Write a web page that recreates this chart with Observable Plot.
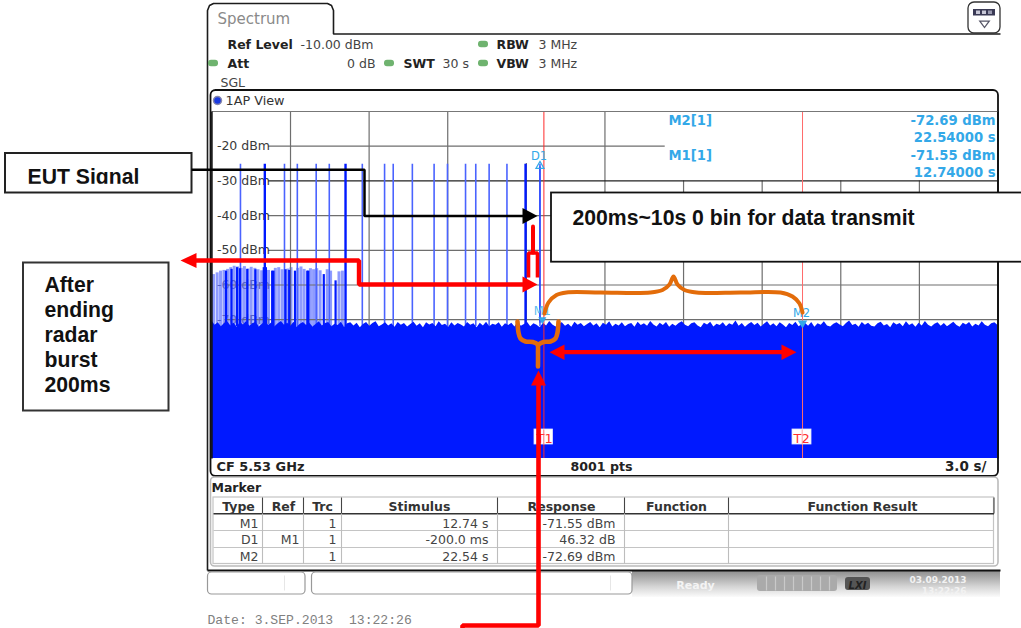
<!DOCTYPE html>
<html>
<head>
<meta charset="utf-8">
<script src="https://cdn.jsdelivr.net/npm/d3@7"></script>
<script src="https://cdn.jsdelivr.net/npm/@observablehq/plot@0.6"></script>
<style>
html,body{margin:0;padding:0;background:#fff;overflow:hidden}
#page{position:relative;width:1021px;height:628px;overflow:hidden}
#page svg{position:absolute;left:0;top:0}
#statusbar{position:absolute;left:632px;top:571px;width:368px;height:26px;background:linear-gradient(#8f8f8f,#d5d5d5 60%,#fbfbfb)}
</style>
</head>
<body>
<div id="page"><div id="statusbar"></div></div>
<script>
// ---- values ----
const levelTicks = [-20,-30,-40,-50];
const buriedLevelTicks = [-60,-70];
const gridTopFull = [3,6,9,15];
const gridBelowPulseTop = [12];
const gridBelowText = [18,21,24,27];
const pulseTimes = [1.09,2.77,3.26,3.98,4.48,5.74,6.59,6.92,7.65,8.48,8.99,9.68,10.07,10.58,11.26,12.52];
const thickPulseTimes = [2.02,5.10,11.97];
const pulseTop = -25.2;
const burstLightTimes = [0.06,0.2,0.33,0.46,0.6,0.72,0.85,0.98,1.12,1.24,1.38,1.5,1.64,1.76,1.9,2.16,2.42,2.55,2.68,2.9,3.02,3.28,3.4,3.52,3.76,3.88,4.0,4.13,4.4,4.53,4.85,4.98];
const burstLightTops  = [-57,-56.5,-56,-55.8,-55.5,-55,-54.6,-54.8,-55.2,-54.7,-55.4,-54.9,-55.2,-55.6,-55.9,-55.8,-55.2,-55,-55.6,-55.4,-55,-55.2,-54.8,-55.5,-55.3,-55.6,-55.3,-55.9,-55.6,-56,-56.2,-56];
const burstDarkTimes = [0.54,0.75,0.96,1.07,1.35,1.66,1.98,2.06,2.30,2.35,2.81,2.95,3.17,3.64,3.68,4.27,4.72];
const burstDarkTops  = [-56,-55.5,-55,-55.3,-55.5,-55.6,-55,-55,-56,-56,-55.6,-55.8,-56,-56,-56,-57,-58.8];
const noiseFloor = [
-70.4,-71.6,-70.9,-72,-71.1,-70.6,-71.8,-71,-72.2,-70.8,-71.5,-70.5,-71.9,-71.2,-70.7,-72.1,-71.3,-70.6,-71.7,-70.9,-72,-71.2,-70.5,-71.6,-71,-71.9,-70.7,-72.2,-71.3,-70.8,
-71.7,-71,-72.1,-71.4,-70.6,-71.8,-71.1,-70.8,-72,-71.3,-71.7,-70.7,-72.2,-71.2,-70.9,-71.8,-71,-72.3,-71.4,-70.8,-71.9,-71.1,-70.6,-72,-71.5,-70.9,-71.8,-71.2,-72.2,-70.8,
-71.6,-71.1,-72.1,-71.4,-70.7,-71.9,-71.2,-72.3,-70.9,-71.5,-71.1,-72,-70.6,-71.7,-71.3,-72.2,-70.9,-71.8,-71.1,-71.5,-72.1,-70.8,-71.6,-71.2,-72.3,-71,-71.8,-70.7,-72,-71.3,
-71.6,-70.9,-72.2,-71.2,-71.7,-71,-72.1,-70.6,-71.9,-71.4,-70.8,-72,-71.2,-71.6,-72.3,-71,-71.8,-70.5,-71.5,-72.1,-71.2,-70.9,-71.9,-71.3,-72.2,-70.7,-71.6,-71.1,-72,-71.4,
-70.8,-71.8,-71.2,-72.3,-71,-71.6,-70.6,-72.1,-71.3,-71.8,-70.9,-72,-71.4,-71.1,-72.2,-70.7,-71.7,-71.2,-71.9,-70.5,-71.5,-72.1,-71,-71.7,-70.8,-72.2,-71.3,-71.9,-71.1,-70.6,
-71.6,-72,-71.2,-70.9,-71.8,-72.3,-71,-71.5,-70.7,-72.1,-71.3,-71.7,-70.9,-72,-71.2,-71.6,-70.4,-71.9,-71.1,-72.2,-71.4,-70.8,-71.7,-71,-72.1,-71.3,-70.6,-71.8,-71.2,-72,
-70.9,-71.5,-72.3,-71.1,-71.7,-70.7,-72,-71.4,-71,-71.9,-70.8,-72.2,-71.2,-71.6,-70.6,-71.8,-72.1,-71.3,-70.9,-71.5,-72,-71.1,-70.4,-71.7,-71.3,-72.2,-70.8,-71.6,-71,-71.9,
-72.1,-71.2,-70.7,-71.8,-71.4,-72.3,-70.9,-71.5,-71.1,-72,-70.6,-71.7,-71.2,-72.2,-71,-71.8,-70.5,-71.6,-72.1,-71.3,-70.9,-71.9,-71.1,-72,-71.4,-70.7,-71.7,-72.2,-71,-71.5,
-70.8,-72.1,-71.3,-71.8,-70.6,-71.6,-72,-71.2,-70.9,-71.7];
const t1Time = 12.67, t2Time = 22.54, d1Time = 12.52;
const m1Level = -70, m2Level = -71, d1Level = -26;

const markerHeader = ["Type","Ref","Trc","Stimulus","Response","Function","Function Result"];
const markerType = ["M1","D1","M2"];
const markerRef = ["","M1",""];
const markerTrc = ["1","1","1"];
const markerStimulus = ["12.74 s","-200.0 ms","22.54 s"];
const markerResponse = ["-71.55 dBm","46.32 dB","-72.69 dBm"];
const afterLines = ["After","ending","radar","burst","200ms"];

const BLUE="#0019ff", PULSE="#4a63ff", LIGHT="#8e9bff", RED="#ff0000", ORANGE="#e36c0a", CYAN="#33a8e8", GRID="#6e6e6e";
const SANS="DejaVu Sans", ARIAL="Liberation Sans";

// ---- the trace, through Plot's scales ----
const step = 30/(noiseFloor.length-1);
const chart = Plot.plot({
  width:1021,height:628,marginLeft:211.4,marginRight:23.5,marginTop:111,marginBottom:170,
  style:{background:"transparent"},
  x:{domain:[0,30],axis:null},
  y:{domain:[-110,-10],axis:null},
  marks:[
    Plot.ruleX(burstLightTimes,{x:d=>d,y1:-72,y2:(d,i)=>burstLightTops[i],stroke:LIGHT,strokeWidth:3}),
    Plot.ruleX(gridTopFull,{y1:-10,y2:-72,stroke:GRID,strokeWidth:1.2}),
    Plot.ruleX(gridBelowPulseTop,{y1:-25,y2:-72,stroke:GRID,strokeWidth:1.2}),
    Plot.ruleX(gridBelowText,{y1:-30,y2:-72,stroke:GRID,strokeWidth:1.2}),
    Plot.ruleY([-20],{x1:2.16,x2:17.3,stroke:GRID,strokeWidth:1.2}),
    Plot.ruleY([-30],{x1:2.16,x2:30,stroke:"#222",strokeWidth:1.1}),
    Plot.ruleY([-40,-50],{x1:2.16,x2:30,stroke:GRID,strokeWidth:1.2}),
    Plot.ruleY(buriedLevelTicks,{x1:0.5,x2:30,stroke:GRID,strokeWidth:1.2}),
    Plot.text(levelTicks,{x:0,y:d=>d,text:d=>`${d} dBm`,textAnchor:"start",dx:5,fontFamily:SANS,fontSize:12.5,fill:"#3a3a3a"}),
    Plot.text(buriedLevelTicks,{x:0,y:d=>d,text:d=>`${d} dBm`,textAnchor:"start",dx:5,fontFamily:SANS,fontSize:12.5,fill:"#5561c8"}),
    Plot.ruleX(pulseTimes,{y1:-72,y2:pulseTop,stroke:PULSE,strokeWidth:1.6}),
    Plot.ruleX(thickPulseTimes,{y1:-72,y2:pulseTop,stroke:BLUE,strokeWidth:2.4}),
    Plot.ruleX(burstDarkTimes,{x:d=>d,y1:-72,y2:(d,i)=>burstDarkTops[i],stroke:BLUE,strokeWidth:2.2}),
    Plot.areaY(noiseFloor,{x:(d,i)=>i*step,y1:-110,y2:d=>d,curve:"linear",fill:BLUE}),
    Plot.ruleX([d1Time],{y1:-71,y2:d1Level,stroke:"#1030ff",strokeWidth:1}),
    Plot.ruleX([t1Time],{y1:-10,y2:-110,stroke:"#ff2a2a",strokeWidth:1}),
    Plot.ruleX([t2Time],{y1:-10,y2:-110,stroke:"#ff6a6a",strokeWidth:1}),
    Plot.dot([d1Time],{x:d=>d,y:d1Level,dy:-1,symbol:"triangle",r:3,stroke:CYAN,strokeWidth:1.2,fill:"none"}),
    Plot.dot([t1Time-0.06],{x:d=>d,y:m1Level,symbol:"triangle",rotate:180,r:3,fill:CYAN,stroke:"none"}),
    Plot.dot([t2Time],{x:d=>d,y:m2Level,symbol:"triangle",rotate:180,r:3.5,fill:CYAN,stroke:"none"}),
    Plot.text(["D1"],{x:d1Time,y:d1Level,dy:-11,dx:-1,fontFamily:SANS,fontSize:11.5,fill:CYAN}),
    Plot.text(["M1"],{x:t1Time-0.06,y:m1Level,dy:-8,fontFamily:SANS,fontSize:11.5,fill:"#5cc0ee"}),
    Plot.text(["M2"],{x:t2Time,y:m2Level,dy:-10,dx:-1,fontFamily:SANS,fontSize:11.5,fill:CYAN})
  ]
});
document.getElementById("page").appendChild(chart);

// ---- instrument frame and call-outs, pixel space (identity scales) ----
const T=(s,x,y,o={})=>Plot.text([s],{x,y,text:d=>d,lineAnchor:"bottom",textAnchor:"start",fontFamily:SANS,fontSize:12.5,fill:"#333",...o});
const B=(s,x,y,o={})=>T(s,x,y,{fontWeight:"bold",fill:"#222",...o});
const L=(pts,stroke,strokeWidth,o={})=>Plot.line(pts,{x:d=>d[0],y:d=>d[1],stroke,strokeWidth,strokeLinejoin:"miter",strokeLinecap:"butt",...o});
const H=(pts,fill)=>Plot.line(pts,{x:d=>d[0],y:d=>d[1],stroke:"none",fill});
const R=(x1,y1,x2,y2,o={})=>Plot.rect([0],{x1,y1,x2,y2,fill:"none",...o});
const LED=(x,y)=>R(x-5,y-3.2,x+5,y+3.2,{fill:"#6fb36f",rx:3});
const SMOOTH={curve:"catmull-rom",strokeLinejoin:"round",strokeLinecap:"round"};

const tableCols=[262,303,341,497,624,728];
const headerCentres=[238,283,322,419,561,676,862];
const rowBase=[527,543.5,560];
const READOUT={fill:CYAN,fontWeight:"bold",fontSize:13.2};
const CALLOUT={fontFamily:ARIAL,fontSize:21.2,fill:"#111"};

const overlay = Plot.plot({
  width:1021,height:628,margin:0,
  style:{background:"transparent"},
  x:{type:"identity",axis:null},y:{type:"identity",axis:null},
  marks:[
    // tab + outer frame
    L([[207,570],[207,10],[209,5],[213,3],[327,3],[331,5],[333,10],[333,33.5],[1000,33.5]],"#1c1c1c",1.6),
    L([[207,570],[1000,570]],"#111",2),
    R(968,2,1000,33,{fill:"#fff",stroke:"#333",strokeWidth:1.3,rx:6}),
    R(973,9,995,15.5,{fill:"#3a3a55"}),
    R(976,10.5,980,14,{fill:"#c9c9d8"}),R(982,10.5,986,14,{fill:"#c9c9d8"}),R(988,10.5,992,14,{fill:"#9a9ab0"}),
    H([[978,20],[990,20],[984,28]],"#556"),H([[980.5,21.3],[987.5,21.3],[984,26]],"#fff"),
    T("Spectrum",217,23,{fontSize:15,fill:"#8a8a8a"}),
    // settings
    B("Ref Level",227,48), T("-10.00 dBm",300,48,{fill:"#444"}),
    LED(483,44), B("RBW",496,48), T("3 MHz",538,48,{fill:"#444"}),
    LED(213,63), B("Att",227,67), T("0 dB",375,67,{textAnchor:"end",fill:"#444"}),
    LED(389,63), B("SWT",403,67), T("30 s",442,67,{fill:"#444"}),
    LED(483,63), B("VBW",496,67), T("3 MHz",538,67,{fill:"#444"}),
    T("SGL",220,86,{fill:"#444"}),
    // graph panel
    R(210.5,90,998,476,{stroke:"#111",strokeWidth:1.8,rx:5}),
    L([[211,111],[997,111]],"#777",1.2),
    L([[211.4,111],[211.4,458]],"#111",1.6),
    L([[997.5,111],[997.5,458]],"#111",1.6),
    Plot.dot([0],{x:217,y:100,r:4,fill:"#1a3ae0",stroke:"#88a"}),
    T("1AP View",225,104,{fill:"#333",fontSize:12.8}),
    // read-outs
    T("M2[1]",668,124,READOUT),
    T("-72.69 dBm",995,124,{...READOUT,textAnchor:"end"}),
    T("22.54000 s",995,141,{...READOUT,textAnchor:"end"}),
    T("M1[1]",668,159,READOUT),
    T("-71.55 dBm",995,159,{...READOUT,textAnchor:"end"}),
    T("12.74000 s",995,176,{...READOUT,textAnchor:"end"}),
    // T1 / T2 flags
    R(534,429,552.5,444,{fill:"#fff",stroke:"#dfe3ff",strokeWidth:.8}),
    T("T1",536,442,{fill:"#ff3030",fontSize:13}),
    L([[543.3,429],[543.3,444]],"#ff5050",.8),
    R(792,429,811,444,{fill:"#fff",stroke:"#dfe3ff",strokeWidth:.8}),
    T("T2",793,442,{fill:"#ff3030",fontSize:13}),
    L([[801.7,429],[801.7,444]],"#ff9090",.8),
    // foot of graph
    B("CF 5.53 GHz",216,470,{fontSize:12.9}),
    B("8001 pts",601,470,{textAnchor:"middle",fontSize:12.6}),
    B("3.0 s/",986,470,{textAnchor:"end",fontSize:13.5}),
    // marker table
    R(210.5,477,998,566,{stroke:"#bbb",strokeWidth:1.6,rx:4}),
    B("Marker",211,491),
    R(213,497,993.5,563.5,{stroke:"#c4c4c4",strokeWidth:1.2}),
    L([[213,513.3],[993.5,513.3]],"#333",1.5),
    L([[213,530],[993.5,530]],"#c4c4c4",1.2),
    L([[213,547],[993.5,547]],"#c4c4c4",1.2),
    ...tableCols.flatMap(x=>[L([[x,497],[x,513]],"#444",1.1),L([[x,513],[x,563]],"#bdbdbd",1.1)]),
    L([[993.5,497],[993.5,513]],"#444",1.1),
    ...markerHeader.map((h,i)=>B(h,headerCentres[i],510,{textAnchor:"middle",fill:"#333"})),
    ...markerType.flatMap((v,i)=>[
      T(v,258,rowBase[i],{textAnchor:"end",fill:"#444"}),
      T(markerRef[i],299,rowBase[i],{textAnchor:"end",fill:"#444"}),
      T(markerTrc[i],336,rowBase[i],{textAnchor:"end",fill:"#444"}),
      T(markerStimulus[i],488,rowBase[i],{textAnchor:"end",fill:"#444"}),
      T(markerResponse[i],615,rowBase[i],{textAnchor:"end",fill:"#444"})
    ]),
    // status strip
    R(207.5,572,305,594,{fill:"#fff",stroke:"#999",strokeWidth:1.2,rx:4}),
    R(311.5,572,632,594,{fill:"#fff",stroke:"#999",strokeWidth:1.2,rx:4}),
    L([[284,575],[284,590]],"#e6e6e6",1), L([[610,575],[610,590]],"#e6e6e6",1),
    B("Ready",695,588,{textAnchor:"middle",fill:"#f4f4f4",fontSize:11}),
    R(757,575,837,591,{fill:"#aaaaaa",rx:3}),
    ...[766,775,784,793,802,811,820,829].map(x=>L([[x,576],[x,590]],"#c9c9c9",1.2)),
    R(845,577,870,590,{fill:"#555",rx:3}),
    B("LXI",857,588,{textAnchor:"middle",fill:"#222",fontSize:10,fontStyle:"italic"}),
    B("03.09.2013",966,582,{textAnchor:"end",fill:"#f2f2f2",fontSize:9}),
    B("13:22:26",966,593,{textAnchor:"end",fill:"#f2f2f2",fontSize:9}),
    T("Date: 3.SEP.2013  13:22:26",207,623,{fontFamily:"Liberation Mono",fontSize:13.1,fill:"#808080"}),

    // call-out boxes
    R(5,153,191.5,192.5,{fill:"#fff",stroke:"#222",strokeWidth:2}),
    B("EUT Signal",27,183,CALLOUT),
    R(20,183.8,180,191,{fill:"#fff"}),
    R(23,262.5,168.5,410.5,{fill:"#fff",stroke:"#333",strokeWidth:2}),
    ...afterLines.map((s,i)=>B(s,44,[291.5,316.5,341.5,366.5,391.5][i],CALLOUT)),

    // EUT arrow
    L([[191,169.3],[364,169.3],[364,215.6],[525,215.6]],"#000",2.5),
    H([[522,207.5],[537,215.6],[522,223.5]],"#000"),

    // red routes
    L([[194,260],[358.5,260],[358.5,284],[524,284]],RED,4.4),
    H([[180,260],[196,252.5],[196,267.5]],RED),
    H([[522,276],[537,284],[522,292]],RED),
    L([[528,277],[528,252.5],[537,252.5],[537,277]],RED,3.6),
    L([[532.5,252],[532.5,226]],RED,4,{strokeLinecap:"round"}),

    // the 200 ms box
    R(551,192.5,1030,261.7,{fill:"#fff",stroke:"#111",strokeWidth:1.8}),
    B("200ms~10s 0 bin for data transmit",572,224,CALLOUT),

    // orange braces
    L([[544,313],[548,302],[556,294.5],[566,292],[600,292],[650,292],[662,289.5],[669,284],[673,276],[677,284],[684,289.5],[696,292],[740,292],[780,292],[792,296],[799,303],[802,312]],ORANGE,4,SMOOTH),
    L([[517,321],[518,332],[520,338],[525,341],[532,341.5],[537,344],[537.5,352],[537.5,366]],ORANGE,4.6,SMOOTH),
    L([[558,321],[557,332],[555,338],[550,341],[543,341.5],[538,344]],ORANGE,4.6,SMOOTH),

    // double arrow
    L([[560,351.7],[786,351.7]],RED,4.2),
    H([[549,351.7],[564,344],[564,359.5]],RED),
    H([[796,351.7],[781,344],[781,359.5]],RED),

    // bottom red route
    H([[538,370],[530.5,385],[545.5,385]],RED),
    L([[538,384],[538,625],[462,625],[462,628]],RED,4.6)
  ]
});
document.getElementById("page").appendChild(overlay);
</script>
</body>
</html>
